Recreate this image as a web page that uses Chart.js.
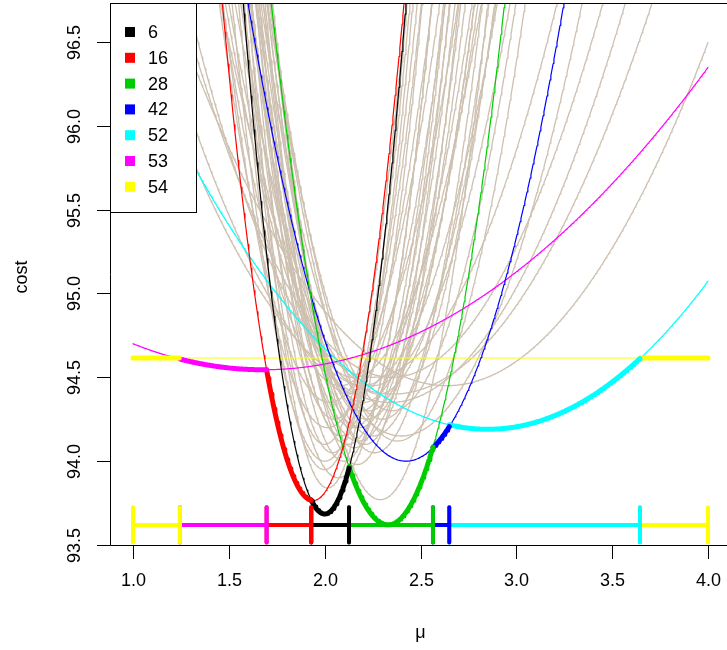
<!DOCTYPE html>
<html>
<head>
<meta charset="utf-8">
<script src="https://cdn.jsdelivr.net/npm/chart.js@4.4.0/dist/chart.umd.min.js"></script>
<style>
  html, body { margin: 0; padding: 0; background: #fff; }
  #wrap { width: 727px; height: 650px; }
</style>
</head>
<body>
<div id="wrap"><canvas id="costChart"></canvas></div>
<script>
// highlighted candidates: legend label, colour, and their cost parabolas
const candLabels = ['6', '16', '28', '42', '52', '53', '54'];
const candColors = ['#000000', '#FF0000', '#00CD00', '#0000FF', '#00FFFF', '#FF00FF', '#FFFF00'];
const candMu     = [2.000, 1.940, 2.330, 2.424, 2.850, 1.680, 2.500];
const candMin    = [93.685, 93.765, 93.620, 94.000, 94.190, 94.545, 94.615];
const candCurv   = [16.9, 13.2, 8.4, 4.02, 0.668, 0.335, 0];

// pieces of the lower envelope: which candidate wins on [segFrom, segTo]
const segCand = [6, 5, 1, 0, 2, 3, 4, 6];
const segFrom = [1.000, 1.245, 1.697, 1.930, 2.127, 2.565, 2.650, 3.645];
const segTo   = [1.245, 1.697, 1.930, 2.127, 2.565, 2.650, 3.645, 4.000];
const barLevel = 93.62;
const barHalf = 0.105;

// the other candidates (drawn in tan): mu at minimum, minimum cost, curvature
const tanMu   = [2.015, 1.998, 2.040, 2.000, 2.084, 2.070, 2.154, 2.147, 2.190, 2.176, 2.290,
                 2.220, 2.200, 2.260, 2.165, 2.200, 2.170, 2.210, 2.015, 2.025, 2.380, 2.250,
                 2.400, 2.350, 2.341, 2.357, 2.636, 2.250, 2.050, 2.100, 2.120, 2.180, 2.230,
                 2.250, 2.300, 2.080, 2.150, 2.350, 2.000, 2.120, 2.280];
const tanMin  = [93.84, 93.95, 94.05, 94.00, 94.15, 93.90, 94.08, 94.20, 94.30, 94.12, 93.77,
                 94.25, 94.35, 94.05, 94.40, 94.45, 93.98, 94.10, 94.20, 94.35, 94.12, 94.50,
                 94.15, 94.50, 94.35, 94.40, 94.45, 94.45, 94.25, 94.00, 94.40, 94.20, 94.30,
                 94.15, 94.25, 94.45, 94.50, 94.30, 94.10, 94.10, 94.40];
const tanCurv = [16.8, 13.9, 15.2, 11.7, 14.3, 11.8, 11.8, 9.8, 10.1, 8.4, 9.4,
                 7.85, 6.6, 8.5, 6.4, 4.65, 11.9, 10.95, 8.5, 7.2, 5.88, 2.41,
                 2.9, 1.84, 1.58, 1.277, 1.10, 4.43, 12.0, 13.0, 9.0, 9.0, 8.0,
                 7.0, 7.2, 6.0, 5.0, 5.8, 14.5, 10.5, 6.2];

const xTicks = [1.0, 1.5, 2.0, 2.5, 3.0, 3.5, 4.0];
const yTicks = [93.5, 94.0, 94.5, 95.0, 95.5, 96.0, 96.5];

const FONT = '18px "Liberation Sans", Arial, sans-serif';
const TAN = '#CDC0B0';

// sample a cost parabola on [a, b]
function parabola(mu, min, curv, a, b) {
    const pts = [];
    const n = Math.max(2, Math.ceil((b - a) / 0.004));
    for (let i = 0; i <= n; i++) {
        const x = a + (b - a) * i / n;
        pts.push({ x: x, y: min + curv * (x - mu) * (x - mu) });
    }
    return pts;
}

function lineSet(data, color, width, order) {
    return {
        data: data, borderColor: color, borderWidth: width, order: order,
        pointRadius: 0, showLine: true, fill: false, tension: 0,
        borderCapStyle: 'round', borderJoinStyle: 'round'
    };
}

const datasets = [];
tanMu.forEach((mu, i) => {
    datasets.push(lineSet(parabola(mu, tanMin[i], tanCurv[i], 1, 4), TAN, 1.3, 9));
});
candMu.forEach((mu, i) => {
    datasets.push(lineSet(parabola(mu, candMin[i], candCurv[i], 1, 4), candColors[i], 1.2, 8));
});
segCand.forEach((c, i) => {
    const color = candColors[c];
    datasets.push(lineSet(parabola(candMu[c], candMin[c], candCurv[c], segFrom[i], segTo[i]), color, 5, 7));
    datasets.push(lineSet([{ x: segFrom[i], y: barLevel }, { x: segTo[i], y: barLevel }], color, 4, 6));
    datasets.push(lineSet([{ x: segFrom[i], y: barLevel - barHalf }, { x: segFrom[i], y: barLevel + barHalf }], color, 4, 6));
    datasets.push(lineSet([{ x: segTo[i], y: barLevel - barHalf }, { x: segTo[i], y: barLevel + barHalf }], color, 4, 6));
});

// axes, box and legend in base-graphics style
const frame = {
    id: 'frame',
    afterDatasetsDraw(chart) {
        const ctx = chart.ctx;
        const a = chart.chartArea;
        const xs = chart.scales.x, ys = chart.scales.y;
        ctx.save();
        ctx.strokeStyle = '#000';
        ctx.fillStyle = '#000';
        ctx.lineWidth = 1;
        ctx.beginPath();
        ctx.moveTo(a.right + 2, a.top + 0.5);
        ctx.lineTo(a.left + 0.5, a.top + 0.5);
        ctx.lineTo(a.left + 0.5, a.bottom + 0.5);
        ctx.lineTo(a.right + 2, a.bottom + 0.5);
        ctx.stroke();

        ctx.font = FONT;
        ctx.textAlign = 'center';
        ctx.textBaseline = 'middle';
        xTicks.forEach(v => {
            const px = Math.round(xs.getPixelForValue(v)) + 0.5;
            ctx.beginPath();
            ctx.moveTo(px, a.bottom + 0.5);
            ctx.lineTo(px, a.bottom + 14);
            ctx.stroke();
            ctx.fillText(v.toFixed(1), px, 581);
        });
        yTicks.forEach(v => {
            const py = Math.round(ys.getPixelForValue(v)) + 0.5;
            ctx.beginPath();
            ctx.moveTo(a.left + 0.5, py);
            ctx.lineTo(a.left - 13, py);
            ctx.stroke();
            ctx.save();
            ctx.translate(75, py);
            ctx.rotate(-Math.PI / 2);
            ctx.fillText(v.toFixed(1), 0, 0);
            ctx.restore();
        });
        ctx.fillText('\u03bc', (xs.getPixelForValue(1) + xs.getPixelForValue(4)) / 2, 633);
        ctx.save();
        ctx.translate(22, 277);
        ctx.rotate(-Math.PI / 2);
        ctx.fillText('cost', 0, 0);
        ctx.restore();

        // legend
        const lx = a.left + 0.5, ly = a.top + 0.5, lw = 86, lh = 209;
        ctx.fillStyle = '#fff';
        ctx.fillRect(lx, ly, lw, lh);
        ctx.strokeRect(lx, ly, lw, lh);
        ctx.textAlign = 'left';
        candLabels.forEach((lab, i) => {
            const cy = 32 + i * 25.8;
            ctx.fillStyle = candColors[i];
            ctx.fillRect(125, cy - 5, 10, 10);
            ctx.fillStyle = '#000';
            ctx.fillText(lab, 148, cy + 1);
        });
        ctx.restore();
    }
};

new Chart(document.getElementById('costChart'), {
    type: 'scatter',
    data: { datasets: datasets },
    options: {
        responsive: true,
        maintainAspectRatio: false,
        animation: false,
        events: [],
        layout: { padding: { left: 110, right: 0, top: 3, bottom: 105 } },
        scales: {
            x: { type: 'linear', min: 0.88, max: 4.099, display: false },
            y: { type: 'linear', min: 93.5, max: 96.732, display: false }
        },
        plugins: { legend: { display: false }, tooltip: { enabled: false } }
    },
    plugins: [frame]
});
</script>
</body>
</html>
